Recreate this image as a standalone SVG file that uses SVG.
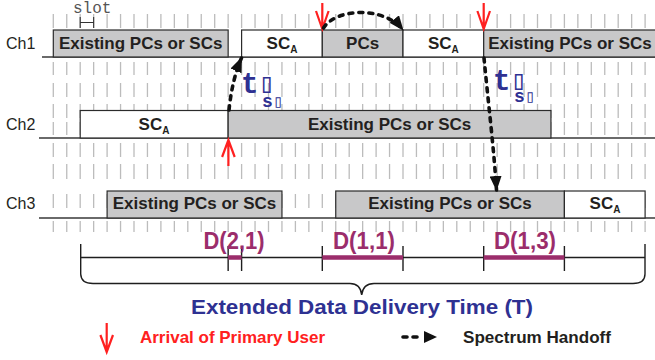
<svg xmlns="http://www.w3.org/2000/svg" width="655" height="360" viewBox="0 0 655 360">
<defs>
<style>
.grid{stroke:#bcbcbc;stroke-width:1.3;fill:none;stroke-dasharray:14 34 13 8 14 7 14 4 13 8 14 7 15 15 14 13 11 300}
.base{stroke:#3a3a3a;stroke-width:1.3;fill:none}
.busy{fill:#c8c8c9;stroke:#2b2b2b;stroke-width:1.2}
.free{fill:#fff;stroke:#2b2b2b;stroke-width:1.2}
.bt{font-family:"Liberation Sans",Arial,sans-serif;font-weight:bold;font-size:17px;fill:#231f20;text-anchor:middle}
.sub{font-size:10px}
.ch{font-family:"Liberation Sans",Arial,sans-serif;font-size:16px;fill:#231f20}
.pu{stroke:#ff2020;stroke-width:2.2;fill:none}
.ho{stroke:#111;stroke-width:3.6;fill:none;stroke-dasharray:4 6;stroke-linecap:round}
.ts{font-family:"Liberation Mono","DejaVu Sans Mono",monospace;font-weight:bold;fill:#2e3192}
.d{font-family:"Liberation Sans",Arial,sans-serif;font-weight:bold;font-size:23px;fill:#9b2d6b;text-anchor:middle}
.dseg{stroke:#9b2d6b;stroke-width:4.5}
.tl{stroke:#1e1e1e;stroke-width:1.4;fill:none}
.lg{font-family:"Liberation Sans",Arial,sans-serif;font-weight:bold;font-size:16.5px}
</style>
<marker id="ah" markerWidth="16" markerHeight="12" refX="14" refY="6" orient="auto" markerUnits="userSpaceOnUse"><path d="M0,0 L15,6 L0,12 Z" fill="#111"/></marker>
</defs>
<rect width="655" height="360" fill="#fff"/>

<g id="grid">
<path class="grid" d="M53.3,14V240M66.75,14V240M80.2,14V240M93.65,14V240M107.1,14V240M120.55,14V240M134,14V240M147.45,14V240M160.9,14V240M174.35,14V240M187.8,14V240M201.25,14V240M214.7,14V240M228.15,14V240M241.6,14V240M255.05,14V240M268.5,14V240M281.95,14V240M295.4,14V240M308.85,14V240M322.3,14V240M335.75,14V240M349.2,14V240M362.65,14V240M376.1,14V240M389.55,14V240M403,14V240M416.45,14V240M429.9,14V240M443.35,14V240M456.8,14V240M470.25,14V240M483.7,14V240M497.15,14V240M510.6,14V240M524.05,14V240M537.5,14V240M550.95,14V240M564.4,14V240M577.85,14V240M591.3,14V240M604.75,14V240M618.2,14V240M631.65,14V240M645.1,14V240"/>
</g>

<g id="slot">
<text x="73" y="13" font-family="'Liberation Mono',monospace" font-size="16" fill="#555">slot</text>
<path d="M80.2,17V28M93.65,17V28M80.2,22.5H93.65" stroke="#333" stroke-width="1.1" fill="none"/>
</g>

<g id="channels">
<text class="ch" x="6" y="48.5">Ch1</text>
<text class="ch" x="6" y="129.5">Ch2</text>
<text class="ch" x="6" y="209">Ch3</text>
<path class="base" d="M42,57H655M39,138H655M39,218H655"/>
</g>

<g id="ch1-existing-1"><rect class="busy" x="53.3" y="30" width="174.85" height="27"/><text class="bt" x="140.7" y="48.5">Existing PCs or SCs</text></g>
<g id="ch1-sca-1"><rect class="free" x="241.6" y="30" width="80.7" height="27"/><text class="bt" x="282" y="48.5">SC<tspan class="sub" dy="4">A</tspan></text></g>
<g id="ch1-pcs"><rect class="busy" x="322.3" y="30" width="80.7" height="27"/><text class="bt" x="362.6" y="48.5">PCs</text></g>
<g id="ch1-sca-2"><rect class="free" x="403" y="30" width="80.7" height="27"/><text class="bt" x="443.4" y="48.5">SC<tspan class="sub" dy="4">A</tspan></text></g>
<g id="ch1-existing-2"><rect class="busy" x="483.7" y="30" width="174" height="27"/><text class="bt" x="570" y="48.5">Existing PCs or SCs</text></g>

<g id="ch2-sca"><rect class="free" x="80.2" y="110.5" width="147.95" height="27.5"/><text class="bt" x="154" y="129.5">SC<tspan class="sub" dy="4">A</tspan></text></g>
<g id="ch2-existing"><rect class="busy" x="228.15" y="110.5" width="322.8" height="27.5"/><text class="bt" x="389.6" y="129.5">Existing PCs or SCs</text></g>

<g id="ch3-existing-1"><rect class="busy" x="107.1" y="191" width="174.85" height="27"/><text class="bt" x="194.5" y="209">Existing PCs or SCs</text></g>
<g id="ch3-existing-2"><rect class="busy" x="335.75" y="191" width="228.65" height="27"/><text class="bt" x="450" y="209">Existing PCs or SCs</text></g>
<g id="ch3-sca"><rect class="free" x="564.4" y="191" width="80.7" height="27"/><text class="bt" x="605" y="209">SC<tspan class="sub" dy="4">A</tspan></text></g>

<g id="arrivals">
<path class="pu" d="M322.3,3V29M316,11L322.3,29L328.6,11"/>
<path class="pu" d="M483.7,3V29M477.4,11L483.7,29L490,11"/>
<path class="pu" d="M228.4,166V140M222.1,157L228.4,140L234.7,157"/>
</g>

<g id="connectors">
<path class="ho" d="M229,110 Q232,80 241.5,58" marker-end="url(#ah)"/>
<path class="ho" d="M323.5,28 C336,8 384,6 403,30" marker-end="url(#ah)"/>
<path class="ho" d="M484,58 C488,100 494,150 496.5,190" marker-end="url(#ah)"/>
</g>

<g id="switch-time-1">
<text class="ts" x="241" y="93" font-size="29">t<tspan font-size="27" dy="-1">▯</tspan><tspan x="262" dy="15" font-size="18">s</tspan><tspan font-size="17">▯</tspan></text>
</g>
<g id="switch-time-2">
<text class="ts" x="493" y="90" font-size="29">t<tspan font-size="27" dy="-1">▯</tspan><tspan x="514" dy="13" font-size="18">s</tspan><tspan font-size="17">▯</tspan></text>
</g>

<g id="timeline">
<path class="tl" d="M80.7,257.5H645M80.7,244V274M645,244V274"/>
<path class="tl" stroke-width="1.1" d="M228.15,246V271M241.6,246V271M322.3,246V271M403,246V271M483.7,246V271M564.4,246V271"/>
<path class="dseg" d="M228.15,257.5H241.6M322.3,257.5H403M483.7,257.5H564.4"/>
<text class="d" x="234" y="249" textLength="61" lengthAdjust="spacingAndGlyphs">D(2,1)</text>
<text class="d" x="364" y="249" textLength="62" lengthAdjust="spacingAndGlyphs">D(1,1)</text>
<text class="d" x="525" y="249" textLength="62" lengthAdjust="spacingAndGlyphs">D(1,3)</text>
<path class="tl" stroke-width="1.1" d="M80.7,274 Q81,283.5 93,283.5 H350 Q360.5,283.5 361.7,295 Q363,283.5 374,283.5 H633 Q645,283.5 645,274"/>
<text x="362" y="314" text-anchor="middle" font-family="'Liberation Sans',Arial,sans-serif" font-weight="bold" font-size="20" fill="#2e3192" textLength="342" lengthAdjust="spacingAndGlyphs">Extended Data Delivery Time (T)</text>
</g>

<g id="legend">
<path class="pu" d="M106.7,323V352M100.4,335L106.7,352L113,335"/>
<text class="lg" x="140" y="343" fill="#ff2020" textLength="185" lengthAdjust="spacingAndGlyphs">Arrival of Primary User</text>
<path class="ho" d="M403,337H419"/>
<path d="M424,331 L437,337 L424,343 Z" fill="#111"/>
<text class="lg" x="463" y="343" fill="#231f20" textLength="148" lengthAdjust="spacingAndGlyphs">Spectrum Handoff</text>
</g>
</svg>
